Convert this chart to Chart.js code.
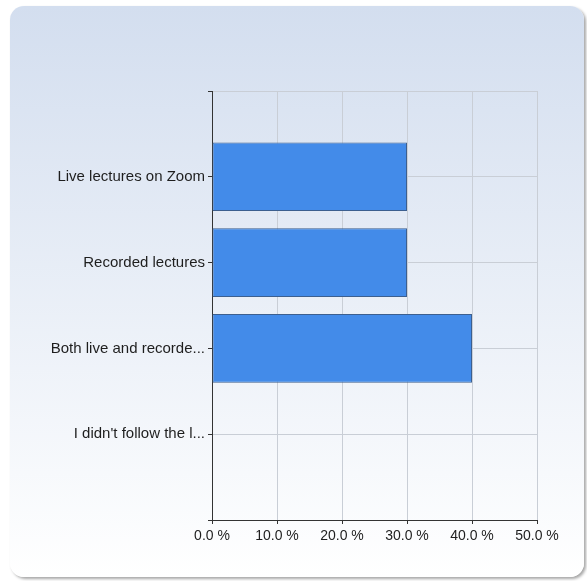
<!DOCTYPE html>
<html>
<head>
<meta charset="utf-8">
<script src="https://cdn.jsdelivr.net/npm/chart.js@4"></script>
<style>
  html, body { margin: 0; padding: 0; background: #ffffff; }
  #panel {
    position: absolute; left: 10px; top: 6px; width: 574px; height: 571px;
    border-radius: 14px;
    background: linear-gradient(#d3deef, #ffffff);
    box-shadow: 2px 2px 3px rgba(0, 0, 0, 0.35);
  }
  #wrap { position: absolute; left: 0; top: 0; width: 587px; height: 581px; }
</style>
</head>
<body>
<div id="panel"></div>
<div id="wrap"><canvas id="chart" width="587" height="581"></canvas></div>
<script>
// Survey answers and share of respondents (%)
const categories = ['Live lectures on Zoom', 'Recorded lectures', 'Both live and recorde...', "I didn't follow the l..."];
const percents = [30, 30, 40, 0];
const xTicks = [0, 10, 20, 30, 40, 50];

// categories sit at 1..4 on a 0..5 axis, leaving a blank slot top and bottom
const points = categories.map((c, i) => ({ x: percents[i], y: i + 1 }));

const textColor = '#1e1e1e';
const gridColor = '#c9ced6';
const axisColor = '#333';

new Chart(document.getElementById('chart').getContext('2d'), {
  type: 'bar',
  data: {
    datasets: [{
      data: points,
      backgroundColor: '#438be9',
      borderColor: '#3c5f8f',
      borderWidth: 1,
      borderSkipped: false,
      barPercentage: 1,
      categoryPercentage: 0.8
    }]
  },
  options: {
    indexAxis: 'y',
    responsive: false,
    animation: false,
    layout: { padding: { top: 91, right: 50, left: 0, bottom: 0 } },
    plugins: { legend: { display: false }, tooltip: { enabled: false } },
    scales: {
      x: {
        type: 'linear',
        min: 0, max: 50,
        afterBuildTicks: s => { s.ticks = xTicks.map(v => ({ value: v })); },
        afterFit: s => { s.height = 61; },
        ticks: {
          color: textColor,
          font: { family: 'Liberation Sans, Arial', size: 14 },
          padding: 4,
          callback: v => v.toFixed(1) + ' %'
        },
        grid: { color: gridColor, tickColor: axisColor, tickLength: 4 },
        border: { color: axisColor, width: 1 }
      },
      y: {
        type: 'linear',
        reverse: true,
        offset: false,
        min: 0, max: 5,
        afterBuildTicks: s => { s.ticks = [0, 1, 2, 3, 4, 5].map(v => ({ value: v })); },
        afterFit: s => { s.width = 212; },
        ticks: {
          color: textColor,
          font: { family: 'Liberation Sans, Arial', size: 15 },
          padding: 3,
          callback: v => categories[v - 1] || ''
        },
        grid: { offset: false, color: gridColor, tickColor: axisColor, tickLength: 4 },
        border: { color: axisColor, width: 1 }
      }
    }
  }
});
</script>
</body>
</html>
